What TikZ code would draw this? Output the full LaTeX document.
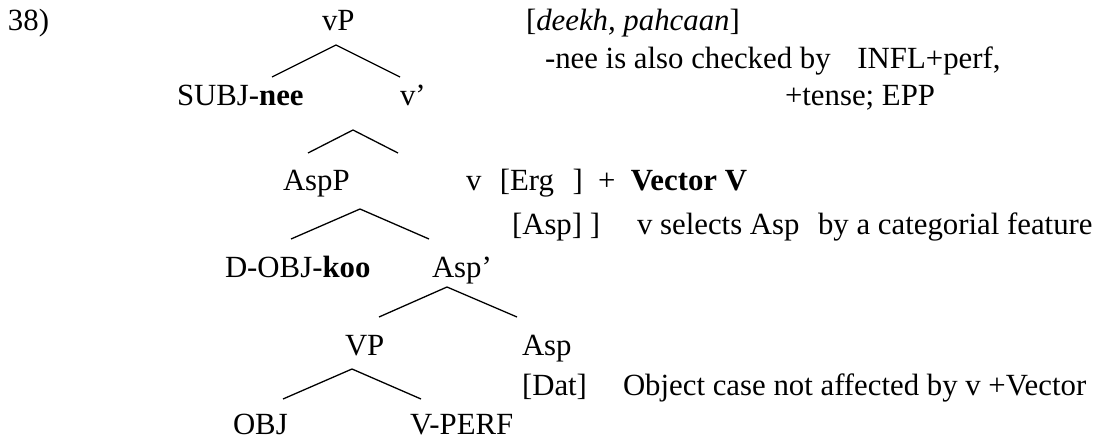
\documentclass[tikz,border=0pt]{standalone}
\usepackage{fontspec}
\setmainfont{Liberation Serif}

\tikzset{
  txt/.style={anchor=base west, inner sep=0pt, outer sep=0pt},
  branch/.style={line width=1.3pt}
}

\begin{document}
\begin{tikzpicture}
[x=1pt,y=-1pt,font=\fontsize{30.8}{36}\selectfont]
  \useasboundingbox (0,0) rectangle (1110,441);

  % example number
  \node[txt] (num) at (8,31) {38)};

  % tree labels
  \node[txt] (vP) at (322,31) {vP};
  \node[txt] (subj) at (177,106) {SUBJ-\textbf{nee}};
  \node[txt] (vbar) at (400,106) {v’};
  \node[txt] (AspP) at (283,190) {AspP};
  \node[txt] (dobj) at (225,277) {D-OBJ-\textbf{koo}};
  \node[txt] (Aspbar) at (432,277) {Asp’};
  \node[txt] (VP) at (345,355) {VP};
  \node[txt] (Asp) at (522,355) {Asp};
  \node[txt] (obj) at (233,434) {OBJ};
  \node[txt] (vperf) at (410,434) {V-PERF};

  % notes
  \node[txt] (lex) at (526,31) {[\textit{deekh, pahcaan}]};
  \node[txt] (check) at (545,69) {-nee is also checked by\hspace{0.87em}INFL+perf,};
  \node[txt] (tense) at (785,106) {+tense; EPP};
  \node[txt] (erg) at (466,190) {v\hspace{0.6em}[Erg\hspace{0.6em}]\hspace{0.5em}+\hspace{0.5em}\textbf{Vector V}};
  \node[txt] (sel) at (512,234) {[Asp] ]\hspace{1.2em}v selects Asp\hspace{0.6em}by a categorial feature};
  \node[txt] (dat) at (522,395) {[Dat]};
  \node[txt] (objcase) at (623,395) {Object case not affected by v +Vector};

  % branch points
  \coordinate (vP-top) at (336,45);
  \coordinate (vP-l) at (272,77);
  \coordinate (vP-r) at (400,77);
  \coordinate (vbar-top) at (353,130);
  \coordinate (vbar-l) at (308,153);
  \coordinate (vbar-r) at (398,153);
  \coordinate (AspP-top) at (360,209);
  \coordinate (AspP-l) at (291,239);
  \coordinate (AspP-r) at (429,239);
  \coordinate (Aspbar-top) at (447,287);
  \coordinate (Aspbar-l) at (379,317);
  \coordinate (Aspbar-r) at (517,317);
  \coordinate (VP-top) at (352,369);
  \coordinate (VP-l) at (283,399);
  \coordinate (VP-r) at (421,399);

  \draw[branch] (vP-l) -- (vP-top) -- (vP-r);
  \draw[branch] (vbar-l) -- (vbar-top) -- (vbar-r);
  \draw[branch] (AspP-l) -- (AspP-top) -- (AspP-r);
  \draw[branch] (Aspbar-l) -- (Aspbar-top) -- (Aspbar-r);
  \draw[branch] (VP-l) -- (VP-top) -- (VP-r);
\end{tikzpicture}
\end{document}
